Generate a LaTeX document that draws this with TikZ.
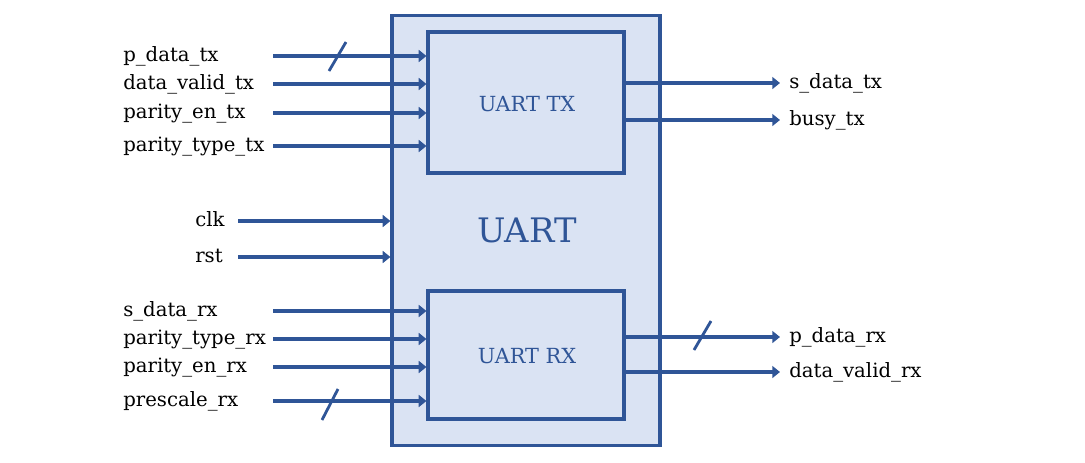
\documentclass[tikz,border=0pt]{standalone}
\usepackage{fontspec}
\setmainfont{DejaVu Serif}
\usetikzlibrary{arrows.meta}
\definecolor{uartblue}{RGB}{47,85,151}
\definecolor{uartfill}{RGB}{218,227,243}

\begin{document}
\begin{tikzpicture}[x=0.025cm, y=-0.025cm,
	box/.style={draw=uartblue, fill=uartfill, line width=2.2pt, inner sep=0pt},
	sig/.style={draw=uartblue, line width=3pt, -{Triangle[length=5.5pt,width=8.5pt]}},
	busmark/.style={draw=uartblue, line width=2pt},
	lbl/.style={font=\fontsize{14}{16}\selectfont, inner sep=0pt, text height=0.76em, text depth=0.24em, anchor=west, yshift=-1.2pt},
	blk/.style={text=uartblue, font=\fontsize{14.8}{18}\selectfont}]

	\useasboundingbox (0,0) rectangle (1085,462);

	% blocks
	\node[box, minimum width=6.7cm, minimum height=10.725cm] (uart) at (526,230.5) {};
	\node[box, minimum width=4.9cm, minimum height=3.525cm] (tx) at (526,102.5) {};
	\node[box, minimum width=4.9cm, minimum height=3.2cm] (rx) at (526,355) {};
	\node[text=uartblue, font=\fontsize{24}{28}\selectfont] (uartlbl) at (527,230) {UART};
	\node[blk] (txlbl) at (527,104) {UART TX};
	\node[blk] (rxlbl) at (527,356) {UART RX};

	% transmitter inputs
	\node[lbl] (pdatatx) at (123,56) {p\_data\_tx};
	\node[lbl] (datavalidtx) at (123,84) {data\_valid\_tx};
	\node[lbl] (parityentx) at (123,113) {parity\_en\_tx};
	\node[lbl] (paritytypetx) at (123,146) {parity\_type\_tx};
	\coordinate (pdatatxin) at (273,56);
	\coordinate (datavalidtxin) at (273,84);
	\coordinate (parityentxin) at (273,113);
	\coordinate (paritytypetxin) at (273,146);
	\draw[sig] (pdatatxin) -- (pdatatxin -| tx.west);
	\draw[sig] (datavalidtxin) -- (datavalidtxin -| tx.west);
	\draw[sig] (parityentxin) -- (parityentxin -| tx.west);
	\draw[sig] (paritytypetxin) -- (paritytypetxin -| tx.west);
	\coordinate (pdatatxbus) at (337.5,56.5);
	\draw[busmark] ([shift={(-8.5,14.5)}]pdatatxbus) -- ([shift={(8.5,-14.5)}]pdatatxbus);

	% transmitter outputs
	\coordinate (sdatatxout) at (780,83);
	\coordinate (busytxout) at (780,120);
	\draw[sig] (tx.east |- sdatatxout) -- (sdatatxout);
	\draw[sig] (tx.east |- busytxout) -- (busytxout);
	\node[lbl] (sdatatx) at (789,83) {s\_data\_tx};
	\node[lbl] (busytx) at (789,120) {busy\_tx};

	% clock and reset
	\node[lbl] (clk) at (195,221) {clk};
	\node[lbl] (rst) at (195,257) {rst};
	\coordinate (clkin) at (238,221);
	\coordinate (rstin) at (238,257);
	\draw[sig] (clkin) -- (clkin -| uart.west);
	\draw[sig] (rstin) -- (rstin -| uart.west);

	% receiver inputs
	\node[lbl] (sdatarx) at (123,311) {s\_data\_rx};
	\node[lbl] (paritytyperx) at (123,339) {parity\_type\_rx};
	\node[lbl] (parityenrx) at (123,367) {parity\_en\_rx};
	\node[lbl] (prescalerx) at (123,401) {prescale\_rx};
	\coordinate (sdatarxin) at (273,311);
	\coordinate (paritytyperxin) at (273,339);
	\coordinate (parityenrxin) at (273,367);
	\coordinate (prescalerxin) at (273,401);
	\draw[sig] (sdatarxin) -- (sdatarxin -| rx.west);
	\draw[sig] (paritytyperxin) -- (paritytyperxin -| rx.west);
	\draw[sig] (parityenrxin) -- (parityenrxin -| rx.west);
	\draw[sig] (prescalerxin) -- (prescalerxin -| rx.west);
	\coordinate (prescalerxbus) at (330,404.5);
	\draw[busmark] ([shift={(-8,15.5)}]prescalerxbus) -- ([shift={(8,-15.5)}]prescalerxbus);

	% receiver outputs
	\coordinate (pdatarxout) at (780,337);
	\coordinate (datavalidrxout) at (780,372);
	\draw[sig] (rx.east |- pdatarxout) -- (pdatarxout);
	\draw[sig] (rx.east |- datavalidrxout) -- (datavalidrxout);
	\node[lbl] (pdatarx) at (789,337) {p\_data\_rx};
	\node[lbl] (datavalidrx) at (789,372) {data\_valid\_rx};
	\coordinate (pdatarxbus) at (702.5,335.5);
	\draw[busmark] ([shift={(-8.5,14.5)}]pdatarxbus) -- ([shift={(8.5,-14.5)}]pdatarxbus);

\end{tikzpicture}
\end{document}
